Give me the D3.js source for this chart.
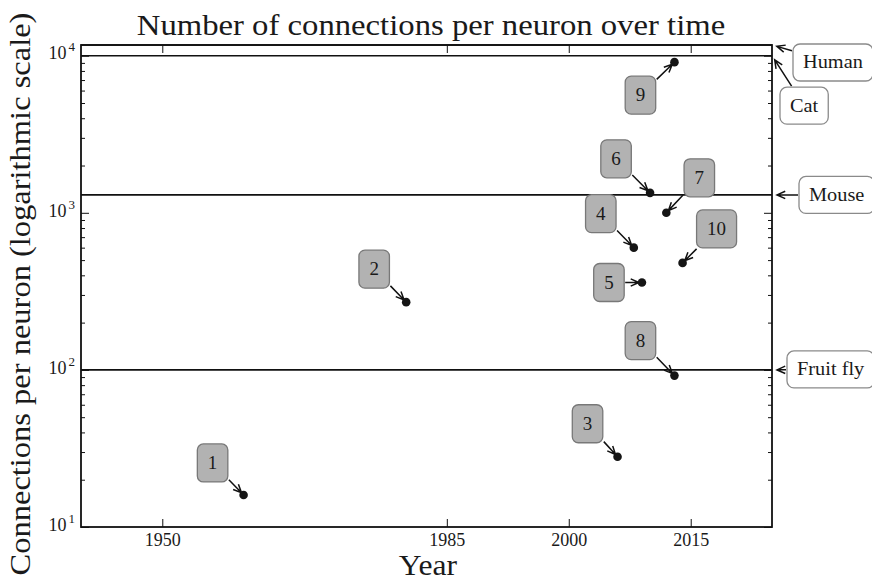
<!DOCTYPE html>
<html>
<head>
<meta charset="utf-8">
<script src="https://cdn.jsdelivr.net/npm/d3@7"></script>
<style>
  body { margin: 0; background: #fff; }
  svg { display: block; }
  text { font-family: "Liberation Serif", "DejaVu Serif", serif; fill: #1a1a1a; }
</style>
</head>
<body>
<svg id="chart" width="872" height="582"></svg>
<script>
// Artificial neural networks: year and connections per neuron
const networkIds = [1, 2, 3, 4, 5, 6, 7, 8, 9, 10];
const networkYears = [1960, 1980, 2006, 2008, 2009, 2010, 2012, 2013, 2013, 2014];
const connectionsPerNeuron = [16, 270, 28, 600, 360, 1340, 1000, 92, 9100, 480];

// Biological reference levels
const organisms = ["Human", "Cat", "Mouse", "Fruit fly"];
const organismConnections = [11700, 10000, 1300, 100];

// Axis ticks
const xTickYears = [1950, 1985, 2000, 2015];
const yTickPowers = [1, 2, 3, 4];
const yearRange = [1940, 2025];
const connectionRange = [10, 11700];

// Placement of the numbered badges relative to their points (px)
const badgeOffsets = [[-31, -32], [-32, -33], [-30, -33], [-33, -34], [-33, 0],
                      [-34, -34], [33, -35], [-34, -35], [-34, 33], [34, -34]];
// Placement of the organism labels: left edge and vertical centre relative to the line end (px)
const organismOffsets = [[21, 17.5], [8, 50], [27, 0], [15, -0.5]];

const W = 872, H = 582;
const plot = { left: 81, right: 772, top: 45, bottom: 527 };
const CM_WIDEN = 1.09;   // serif text is drawn slightly wider

const svg = d3.select("#chart");

const x = d3.scaleLinear().domain(yearRange).range([plot.left, plot.right]);
const y = d3.scaleLog().domain(connectionRange).range([plot.bottom, plot.top]);

function widen(sel, factor) {
  sel.each(function () {
    const len = this.getComputedTextLength();
    d3.select(this).attr("textLength", len * factor).attr("lengthAdjust", "spacingAndGlyphs");
  });
}

// ---- axes with inward ticks on all four sides ----
const majorY = yTickPowers.map(p => Math.pow(10, p));
const minorY = [];
for (let p = 1; p <= 4; p++) for (let m = 2; m <= 9; m++) {
  const v = m * Math.pow(10, p);
  if (v <= connectionRange[1]) minorY.push(v);
}

function styleAxis(g) {
  g.select(".domain").remove();
  g.selectAll(".tick line").attr("stroke", "#111").attr("stroke-width", 1);
}

// bottom
svg.append("g").attr("transform", `translate(0,${plot.bottom})`)
  .call(d3.axisBottom(x).tickValues(xTickYears).tickFormat(d3.format("d"))
        .tickSizeInner(-8).tickSizeOuter(0).tickPadding(19))
  .call(styleAxis)
  .call(g => g.selectAll(".tick text").attr("font-size", 18).attr("dy", 0)
        .attr("font-family", "Liberation Serif").attr("fill", "#1a1a1a"));
// top
svg.append("g").attr("transform", `translate(0,${plot.top})`)
  .call(d3.axisTop(x).tickValues(xTickYears).tickFormat("").tickSizeInner(-8).tickSizeOuter(0))
  .call(styleAxis);
// left major + minor
const leftMajor = svg.append("g").attr("transform", `translate(${plot.left},0)`)
  .call(d3.axisLeft(y).tickValues(majorY).tickFormat(() => "").tickSizeInner(-8).tickSizeOuter(0).tickPadding(0))
  .call(styleAxis);
svg.append("g").attr("transform", `translate(${plot.left},0)`)
  .call(d3.axisLeft(y).tickValues(minorY).tickFormat("").tickSizeInner(-4).tickSizeOuter(0))
  .call(styleAxis);
// right major + minor
svg.append("g").attr("transform", `translate(${plot.right},0)`)
  .call(d3.axisRight(y).tickValues(majorY).tickFormat("").tickSizeInner(-8).tickSizeOuter(0))
  .call(styleAxis);
svg.append("g").attr("transform", `translate(${plot.right},0)`)
  .call(d3.axisRight(y).tickValues(minorY).tickFormat("").tickSizeInner(-4).tickSizeOuter(0))
  .call(styleAxis);

// power-of-ten labels
leftMajor.selectAll(".tick text").each(function (d) {
  const t = d3.select(this).text(null).attr("x", -6).attr("dy", "0.32em")
    .attr("text-anchor", "end").attr("font-family", "Liberation Serif").attr("fill", "#1a1a1a");
  t.append("tspan").attr("font-size", 18).text("10");
  t.append("tspan").attr("font-size", 13).attr("dx", 2).attr("dy", -8).text(Math.round(Math.log10(d)));
});

// ---- organism reference lines ----
const refG = svg.append("g");
refG.selectAll("line").data(organismConnections).join("line")
  .attr("x1", plot.left).attr("x2", plot.right)
  .attr("y1", d => y(d)).attr("y2", d => y(d))
  .attr("stroke", "#111").attr("stroke-width", 1.6);

// frame
svg.append("rect")
  .attr("x", plot.left).attr("y", plot.top)
  .attr("width", plot.right - plot.left).attr("height", plot.bottom - plot.top)
  .attr("fill", "none").attr("stroke", "#111").attr("stroke-width", 1.8);

// ---- helpers for annotation arrows ----
function boxEdge(cx, cy, hw, hh, px, py) {
  const dx = px - cx, dy = py - cy;
  const t = Math.min(dx === 0 ? Infinity : hw / Math.abs(dx), dy === 0 ? Infinity : hh / Math.abs(dy));
  return [cx + dx * t, cy + dy * t];
}
function arrowPath(x1, y1, x2, y2, shrink) {
  const a = Math.atan2(y2 - y1, x2 - x1);
  const tx = x2 - shrink * Math.cos(a), ty = y2 - shrink * Math.sin(a);
  const hl = 9, ha = 0.42;
  const h1 = [tx - hl * Math.cos(a - ha), ty - hl * Math.sin(a - ha)];
  const h2 = [tx - hl * Math.cos(a + ha), ty - hl * Math.sin(a + ha)];
  return `M${x1},${y1}L${tx},${ty}M${h1[0]},${h1[1]}L${tx},${ty}L${h2[0]},${h2[1]}`;
}

// ---- organism labels ----
const orgG = svg.append("g");
organisms.forEach((name, i) => {
  const ax = plot.right, ay = y(organismConnections[i]);
  const [ox, oy] = organismOffsets[i];
  const g = orgG.append("g");
  const t = g.append("text").attr("font-size", 18).attr("text-anchor", "middle")
    .attr("dy", "0.33em").text(name);
  const tw = t.node().getComputedTextLength() * 1.13;
  t.attr("textLength", tw).attr("lengthAdjust", "spacingAndGlyphs");
  const bw = tw + 20, bh = 37;
  const left = ax + ox, cy = ay + oy, cx = left + bw / 2;
  t.attr("x", cx).attr("y", cy);
  g.insert("rect", "text").attr("x", left).attr("y", cy - bh / 2)
    .attr("width", bw).attr("height", bh).attr("rx", 7)
    .attr("fill", "#fff").attr("stroke", "#8a8a8a").attr("stroke-width", 1.3);
  const [sx, sy] = boxEdge(cx, cy, bw / 2 + 1, bh / 2 + 1, ax, ay);
  g.insert("path", "rect").attr("d", arrowPath(sx, sy, ax, ay, 5))
    .attr("fill", "none").attr("stroke", "#111").attr("stroke-width", 1.5);
});

// ---- networks: points, numbered badges and arrows ----
const netG = svg.append("g");
networkIds.forEach((id, i) => {
  const px = x(networkYears[i]), py = y(connectionsPerNeuron[i]);
  const [ox, oy] = badgeOffsets[i];
  const cx = px + ox, cy = py + oy;
  const g = netG.append("g");
  const t = g.append("text").attr("font-size", 19).attr("text-anchor", "middle")
    .attr("x", cx).attr("y", cy).attr("dy", "0.33em").text(id);
  const tw = t.node().getComputedTextLength();
  const bw = tw + 21, bh = 38;
  g.insert("rect", "text").attr("x", cx - bw / 2).attr("y", cy - bh / 2)
    .attr("width", bw).attr("height", bh).attr("rx", 6)
    .attr("fill", "#b2b2b2").attr("stroke", "#787878").attr("stroke-width", 1.3);
  const [sx, sy] = boxEdge(cx, cy, bw / 2 + 1, bh / 2 + 1, px, py);
  g.append("path").attr("d", arrowPath(sx, sy, px, py, 3))
    .attr("fill", "none").attr("stroke", "#111").attr("stroke-width", 1.5);
  g.append("circle").attr("cx", px).attr("cy", py).attr("r", 4.3).attr("fill", "#151515");
});

// ---- titles ----
const title = svg.append("text").attr("x", 431).attr("y", 35).attr("text-anchor", "middle")
  .attr("font-size", 30).text("Number of connections per neuron over time");
widen(title, CM_WIDEN);

const xLabel = svg.append("text").attr("x", 428).attr("y", 575).attr("text-anchor", "middle")
  .attr("font-size", 29).text("Year");
widen(xLabel, CM_WIDEN);

const yLabel = svg.append("text")
  .attr("transform", `translate(30,${(plot.top + plot.bottom) / 2 + 8}) rotate(-90)`)
  .attr("text-anchor", "middle").attr("font-size", 29)
  .text("Connections per neuron (logarithmic scale)");
widen(yLabel, 1.12);
</script>
</body>
</html>
